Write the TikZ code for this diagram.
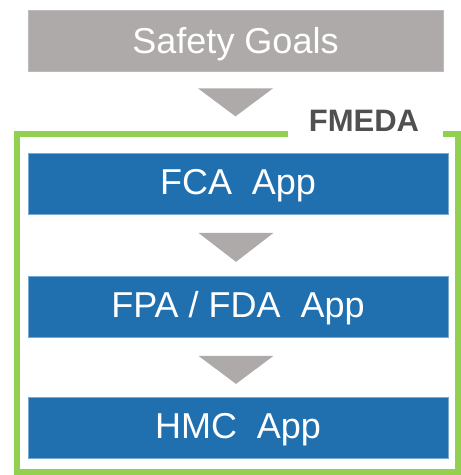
\documentclass[tikz,border=0pt]{standalone}
\usepackage{fontspec}
\setmainfont{Liberation Sans}
\usetikzlibrary{calc}
\definecolor{goalgray}{HTML}{ADAAA9}
\definecolor{appblue}{HTML}{2070B0}
\definecolor{framegreen}{HTML}{92D050}
\definecolor{labelgray}{HTML}{505050}

\begin{document}
\begin{tikzpicture}[x=1pt,y=1pt,
    box/.style={minimum width=420, minimum height=61, inner sep=0,
        text=white, text depth=0, text height=23, font=\fontsize{36}{40}\selectfont},
    goalbox/.style={box, fill=goalgray, draw=goalgray!80!white, line width=0.75,
        minimum width=415, text height=27},
    appbox/.style={box, fill=appblue, draw=appblue!60!white, line width=0.75},
    tri/.style={fill=goalgray}]
                \useasboundingbox (0,0) rectangle (461,475);
                \node[goalbox] (goals) at (235.5,434.5) {Safety Goals};
                \node[appbox] (fca) at (238,291.5) {FCA\hspace{0.55em}App};
                \node[appbox] (fpa) at (238,168.5) {FPA / FDA\hspace{0.55em}App};
                \node[appbox] (hmc) at (238,47.5) {HMC\hspace{0.55em}App};
                \draw[framegreen, line width=6] (288,341) -- (16.5,341) -- (16.5,3) -- (458,3) -- (458,341) -- (443,341);
                \node[text=labelgray, font=\fontsize{31}{35}\selectfont\bfseries] (fmeda) at (364,354) {FMEDA};
                \fill[tri] ($(goals.south)+(-37.5,-17)$) -- ++(75,0) -- ($(goals.south)+(0,-45)$) -- cycle;
                \fill[tri] ($(fca.south)+(-39.5,-18.5)$) -- ++(75,0) -- ($(fca.south)+(-2,-47.5)$) -- cycle;
                \fill[tri] ($(fpa.south)+(-39.5,-18.5)$) -- ++(75,0) -- ($(fpa.south)+(-2,-46.5)$) -- cycle;
            \end{tikzpicture}
\end{document}
